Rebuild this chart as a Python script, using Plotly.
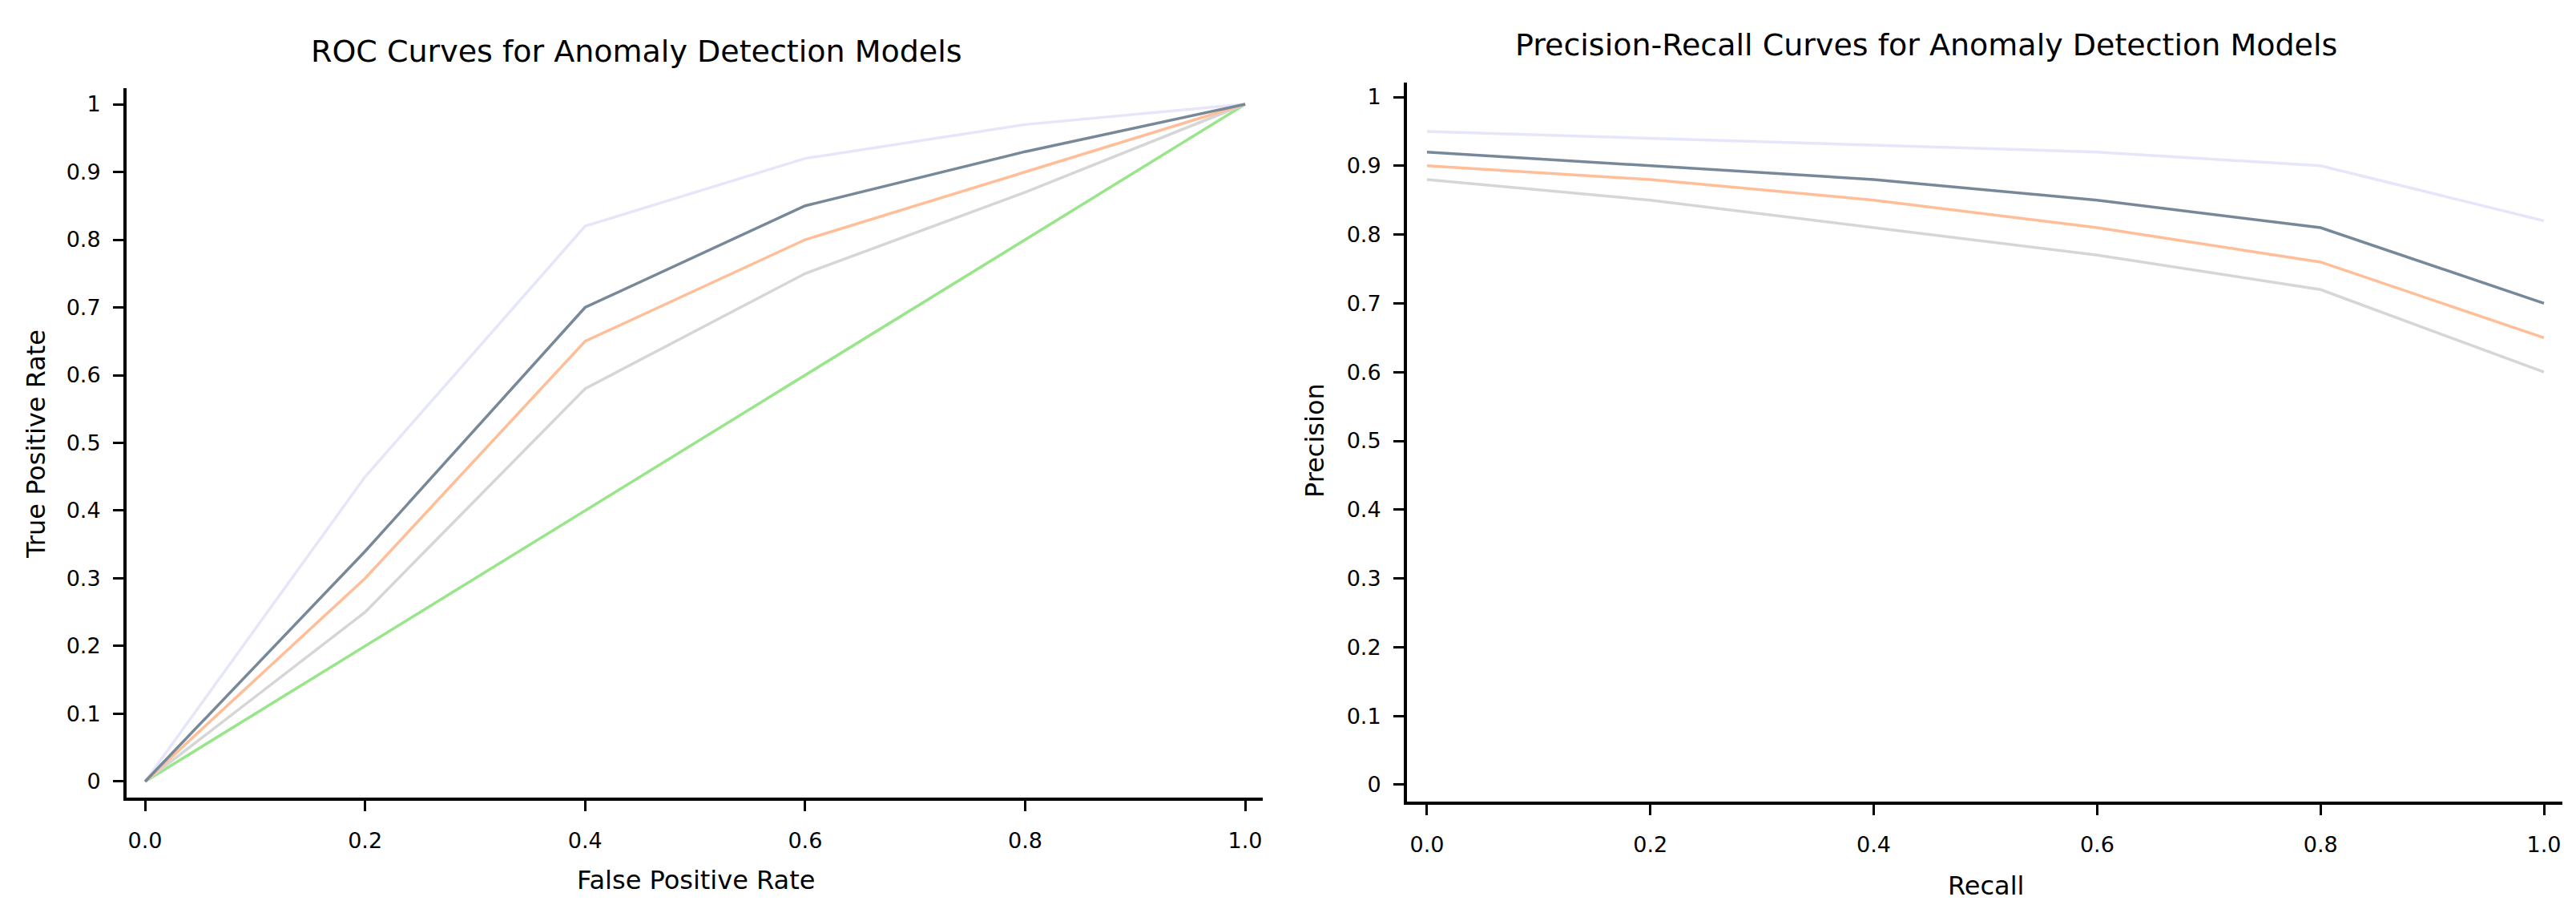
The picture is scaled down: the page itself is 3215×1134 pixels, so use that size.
import plotly.graph_objects as go

# ---- data ----
roc_fpr = [0.0, 0.2, 0.4, 0.6, 0.8, 1.0]
roc_model_a = [0.0, 0.45, 0.82, 0.92, 0.97, 1.0]   # lavender
roc_model_b = [0.0, 0.34, 0.70, 0.85, 0.93, 1.0]   # slate gray
roc_model_c = [0.0, 0.30, 0.65, 0.80, 0.90, 1.0]   # peach
roc_model_d = [0.0, 0.25, 0.58, 0.75, 0.87, 1.0]   # light gray
roc_random = [0.0, 0.2, 0.4, 0.6, 0.8, 1.0]        # green

pr_recall = [0.0, 0.2, 0.4, 0.6, 0.8, 1.0]
pr_model_a = [0.95, 0.94, 0.93, 0.92, 0.90, 0.82]
pr_model_b = [0.92, 0.90, 0.88, 0.85, 0.81, 0.70]
pr_model_c = [0.90, 0.88, 0.85, 0.81, 0.76, 0.65]
pr_model_d = [0.88, 0.85, 0.81, 0.77, 0.72, 0.60]

x_ticks = [0.0, 0.2, 0.4, 0.6, 0.8, 1.0]
x_tick_labels = ["0.0", "0.2", "0.4", "0.6", "0.8", "1.0"]
y_ticks = [0, 0.1, 0.2, 0.3, 0.4, 0.5, 0.6, 0.7, 0.8, 0.9, 1]
y_tick_labels = ["0", "0.1", "0.2", "0.3", "0.4", "0.5", "0.6", "0.7", "0.8", "0.9", "1"]

colors = {
    "a": "#E6E6FA",
    "b": "#778899",
    "c": "#FFBE98",
    "d": "#D6D6D6",
    "g": "#98E58A",
}

FONT = "Verdana, DejaVu Sans, sans-serif"
W, H = 3215, 1134

fig = go.Figure()

def add_line(x, y, color, xa, ya):
    fig.add_trace(go.Scatter(x=x, y=y, mode="lines", xaxis=xa, yaxis=ya,
                             line=dict(color=color, width=3.5), showlegend=False,
                             hoverinfo="x+y"))

# ROC (left)
add_line(roc_fpr, roc_random, colors["g"], "x", "y")
add_line(roc_fpr, roc_model_d, colors["d"], "x", "y")
add_line(roc_fpr, roc_model_c, colors["c"], "x", "y")
add_line(roc_fpr, roc_model_a, colors["a"], "x", "y")
add_line(roc_fpr, roc_model_b, colors["b"], "x", "y")

# PR (right)
add_line(pr_recall, pr_model_d, colors["d"], "x2", "y2")
add_line(pr_recall, pr_model_c, colors["c"], "x2", "y2")
add_line(pr_recall, pr_model_a, colors["a"], "x2", "y2")
add_line(pr_recall, pr_model_b, colors["b"], "x2", "y2")

axis_common = dict(showline=True, linecolor="black", linewidth=4,
                   ticks="outside", ticklen=13, tickwidth=3, tickcolor="black",
                   showgrid=False, zeroline=False,
                   tickfont=dict(family=FONT, size=27, color="black"))

fig.update_layout(
    width=W, height=H,
    margin=dict(l=0, r=0, t=0, b=0),
    paper_bgcolor="white", plot_bgcolor="white",
    font=dict(family=FONT, color="black"),
    xaxis=dict(domain=[150 / W, 1568 / W], range=[-0.0168, 1.016],
               tickvals=x_ticks, ticktext=x_tick_labels, anchor="y",
               ticklabelstandoff=14, **axis_common),
    yaxis=dict(domain=[(H - 987) / H, (H - 102) / H], range=[-0.0237, 1.0237],
               tickvals=y_ticks, ticktext=y_tick_labels, anchor="x",
               ticklabelstandoff=10, **axis_common),
    xaxis2=dict(domain=[1748 / W, 3190 / W], range=[-0.0179, 1.0165],
                tickvals=x_ticks, ticktext=x_tick_labels, anchor="y2",
                ticklabelstandoff=14, **axis_common),
    yaxis2=dict(domain=[(H - 992) / H, (H - 95) / H], range=[-0.0245, 1.021],
                tickvals=y_ticks, ticktext=y_tick_labels, anchor="x2",
                ticklabelstandoff=10, **axis_common),
)

def ann(text, x, y, size, angle=0):
    fig.add_annotation(text=text, x=x / W, y=1 - y / H, xref="paper", yref="paper",
                       showarrow=False, xanchor="center", yanchor="middle",
                       textangle=angle, font=dict(family=FONT, size=size, color="black"))

ann("ROC Curves for Anomaly Detection Models", 786, 56, 38)
ann("Precision-Recall Curves for Anomaly Detection Models", 2396, 48, 38)
ann("False Positive Rate", 860, 1090, 32)
ann("Recall", 2470, 1097, 32)
ann("True Positive Rate", 37, 546, 32, -90)
ann("Precision", 1633, 542, 32, -90)

fig.write_html("out.html")
